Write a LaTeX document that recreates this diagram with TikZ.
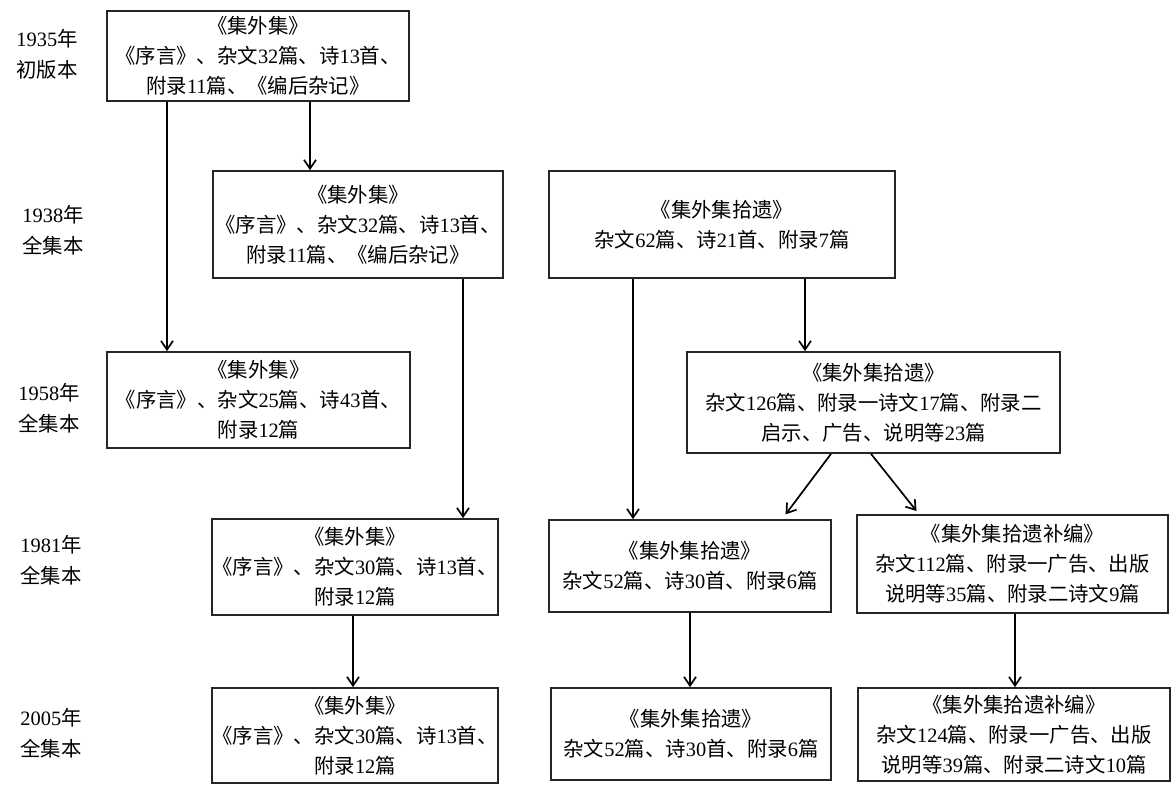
\documentclass[tikz,border=0pt]{standalone}
\usepackage{fontspec}
\setmainfont{Liberation Serif}
\newfontfamily\cjkfont{Noto Sans CJK SC}
\usetikzlibrary{arrows.meta}

% Chinese characters in the CJK font, digits in the serif
\XeTeXinterchartokenstate=1
\newXeTeXintercharclass\cjkclass
\newcount\cjkcode
\cjkcode="4E00
\loop
  \XeTeXcharclass\cjkcode=\cjkclass
  \advance\cjkcode by 1
\ifnum\cjkcode<"A000 \repeat
\XeTeXcharclass"3001=\cjkclass
\XeTeXcharclass"300A=\cjkclass
\XeTeXcharclass"300B=\cjkclass
\XeTeXinterchartoks 0 \cjkclass={\cjkfont}
\XeTeXinterchartoks 4095 \cjkclass={\cjkfont}
\XeTeXinterchartoks \cjkclass 0={\normalfont}
\XeTeXinterchartoks 4095 0={\normalfont}

\tikzset{
  edition/.style={draw=black!85, line width=1.2pt, align=center, inner sep=0pt,
    font=\fontsize{14.5pt}{21.3pt}\selectfont},
  year/.style={align=center, font=\fontsize{14.5pt}{22pt}\selectfont},
  arr/.style={-{Straight Barb[length=0.22cm,width=0.3cm]}, line width=1.2pt},
}

\begin{document}
\begin{tikzpicture}[x=0.025cm, y=-0.025cm]
  \useasboundingbox (0,0) rectangle (1176,789);

  % year labels
  \node[year] (y35) at (47,54) {1935年\\初版本};
  \node[year] (y38) at (53,230) {1938年\\全集本};
  \node[year] (y58) at (49,408) {1958年\\全集本};
  \node[year] (y81) at (51,560) {1981年\\全集本};
  \node[year] (y05) at (51,733) {2005年\\全集本};

  % editions
  \node[edition, minimum width=7.55cm, minimum height=2.25cm] (ji35) at (258,56)
    {《集外集》\\《序言》、杂文32篇、诗13首、\\附录11篇、《编后杂记》};
  \node[edition, minimum width=7.25cm, minimum height=2.675cm] (ji38) at (358,224.5)
    {《集外集》\\《序言》、杂文32篇、诗13首、\\附录11篇、《编后杂记》};
  \node[edition, minimum width=8.65cm, minimum height=2.675cm] (shiyi38) at (722,224.5)
    {《集外集拾遗》\\杂文62篇、诗21首、附录7篇};
  \node[edition, minimum width=7.575cm, minimum height=2.4cm] (ji58) at (258.5,400)
    {《集外集》\\《序言》、杂文25篇、诗43首、\\附录12篇};
  \node[edition, minimum width=9.325cm, minimum height=2.525cm] (shiyi58) at (873.5,402.5)
    {《集外集拾遗》\\杂文126篇、附录一诗文17篇、附录二\\启示、广告、说明等23篇};
  \node[edition, minimum width=7.1cm, minimum height=2.4cm] (ji81) at (355,567)
    {《集外集》\\《序言》、杂文30篇、诗13首、\\附录12篇};
  \node[edition, minimum width=7.05cm, minimum height=2.3cm] (shiyi81) at (690,566)
    {《集外集拾遗》\\杂文52篇、诗30首、附录6篇};
  \node[edition, minimum width=7.775cm, minimum height=2.45cm] (bubian81) at (1012.5,564)
    {《集外集拾遗补编》\\杂文112篇、附录一广告、出版\\说明等35篇、附录二诗文9篇};
  \node[edition, minimum width=7.1cm, minimum height=2.375cm] (ji05) at (355,735.5)
    {《集外集》\\《序言》、杂文30篇、诗13首、\\附录12篇};
  \node[edition, minimum width=7cm, minimum height=2.3cm] (shiyi05) at (691,734)
    {《集外集拾遗》\\杂文52篇、诗30首、附录6篇};
  \node[edition, minimum width=7.8cm, minimum height=2.325cm] (bubian05) at (1014,734.5)
    {《集外集拾遗补编》\\杂文124篇、附录一广告、出版\\说明等39篇、附录二诗文10篇};

  % connectors
  \draw[arr] (167,0 |- ji35.south) -- (167,0 |- ji58.north);
  \draw[arr] (310,0 |- ji35.south) -- (310,0 |- ji38.north);
  \draw[arr] (463,0 |- ji38.south) -- (463,0 |- ji81.north);
  \draw[arr] (633,0 |- shiyi38.south) -- (633,0 |- shiyi81.north);
  \draw[arr] (805,0 |- shiyi38.south) -- (805,0 |- shiyi58.north);
  \draw[arr, shorten >=0.15cm] (831,0 |- shiyi58.south) -- (782,0 |- shiyi81.north);
  \draw[arr, shorten >=0.1cm] (871,0 |- shiyi58.south) -- (919,0 |- bubian81.north);
  \draw[arr] (353,0 |- ji81.south) -- (353,0 |- ji05.north);
  \draw[arr] (690,0 |- shiyi81.south) -- (690,0 |- shiyi05.north);
  \draw[arr] (1015,0 |- bubian81.south) -- (1015,0 |- bubian05.north);
\end{tikzpicture}
\end{document}
